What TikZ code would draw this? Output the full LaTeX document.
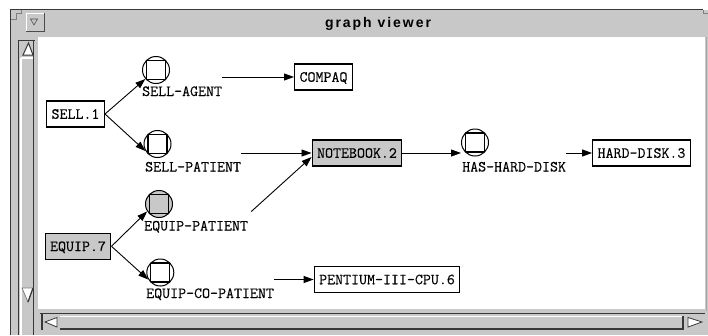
\documentclass[tikz,border=0pt]{standalone}
\usepackage{fontspec}
\usetikzlibrary{arrows.meta,calc}
\newfontfamily\titlefont{Liberation Sans}[LetterSpace=14]
\newfontfamily\lblfam{Latin Modern Mono}[FakeBold=0.3, UprightFeatures={FakeBold=0.3}]
\newcommand\lblfont{\lblfam\fontsize{15.5}{16}\selectfont}
\definecolor{wgray}{HTML}{C8C8C8}
\definecolor{dgray}{HTML}{383838}
\tikzset{
  box/.style={draw=black, line width=1.1pt, fill=white, font=\lblfont, inner xsep=5pt, inner ysep=0pt,
    minimum height=26pt, text height=9.5pt, text depth=0pt},
  gbox/.style={box, fill=wgray},
  rel/.style={circle, draw=black, line width=1pt, minimum size=27pt, inner sep=0pt, fill=white,
    path picture={\draw[line width=1.2pt] ([shift={(-9.5pt,-9.5pt)}]path picture bounding box.center)
      rectangle ([shift={(9.5pt,9.5pt)}]path picture bounding box.center);}},
  grel/.style={rel, fill=wgray},
  lab/.style={font=\lblfont, inner sep=0pt, anchor=base west},
  link/.style={line width=0.9pt, -{Triangle[length=10pt, width=7pt]}}
}
\begin{document}
\begin{tikzpicture}[x=1pt,y=-1pt]
\useasboundingbox (0,0) rectangle (708,335);
\fill[white] (0,0) rectangle (708,335);
% window body
\fill[wgray] (11,10) rectangle (708,335);
\fill[white] (38,37) rectangle (705,309);
\draw[gray!70, line width=0.8pt] (706,37) -- (706,311);
% outer frame
\draw[dgray, line width=1.5pt] (10.5,335) -- (10.5,9.5) -- (703,9.5);
\draw[gray, line width=0.8pt] (11,19) -- (16,19) -- (16,13.5) -- (21.5,13.5) -- (21.5,10);
\draw[gray, line width=0.8pt] (703,10) -- (703,13) -- (708,13);
% title bar button
\draw[white, line width=1pt] (26,31) -- (26,13) -- (44,13);
\draw[gray!60!black, line width=1pt] (44,13) -- (44,31) -- (26,31);
\draw[gray!60!black, line width=0.6pt] (30.5,19) -- (37.5,19) -- (34,25) -- cycle;
% title
\node[font=\titlefont\bfseries\fontsize{14}{14}\selectfont, anchor=base, inner sep=0pt] (title) at (378,27.5) {graph viewer};
% vertical scrollbar
\draw[dgray, line width=1.5pt] (18.5,335) -- (18.5,40.5) -- (35,40.5);
\draw[dgray, line width=1.2pt] (33.5,41) -- (33.5,335);
\draw[white, line width=1.2pt] (21,58) -- (21,335);
\draw[white, line width=1.2pt] (21,58) -- (33,58);
\filldraw[fill=white, draw=dgray, line width=1pt] (23,55) -- (28.5,43) -- (33,55) -- cycle;
\filldraw[fill=white, draw=gray, line width=0.8pt] (22,288) -- (33,288) -- (28,302) -- cycle;
\draw[dgray, line width=1.2pt] (33,288) -- (28,302);
% horizontal scrollbar
\draw[dgray, line width=1.5pt] (40,313.5) -- (705,313.5);
\draw[white, line width=1.2pt] (60,316.5) -- (683,316.5);
\draw[dgray, line width=1.5pt] (60,329) -- (683,329) -- (683,316);
\draw[dgray, line width=1.5pt] (42,330) -- (42,314);
\filldraw[fill=white, draw=dgray, line width=0.8pt] (57,317.5) -- (45,322) -- (57,327) -- cycle;
\filldraw[fill=white, draw=dgray, line width=0.8pt] (688,317.5) -- (702,322) -- (688,327) -- cycle;
% concept boxes
\node[box] (sell) at (75.5,114) {SELL.1};
\node[box] (compaq) at (323.5,77) {COMPAQ};
\node[gbox] (nb) at (357,153) {NOTEBOOK.2};
\node[box] (hd) at (641.5,153) {HARD-DISK.3};
\node[gbox] (equip) at (78,246.3) {EQUIP.7};
\node[box] (pent) at (387,279.5) {PENTIUM-III-CPU.6};
% relation circles
\node[rel] (sa) at (156,70) {};
\node[rel] (sp) at (157.5,144) {};
\node[rel] (hh) at (475,142.5) {};
\node[grel] (ep) at (159,204) {};
\node[rel] (ec) at (160.3,272.5) {};
% relation labels
\node[lab] (saL) at (142,96) {SELL-AGENT};
\node[lab] (spL) at (145,171.5) {SELL-PATIENT};
\node[lab] (hhL) at (462,171.5) {HAS-HARD-DISK};
\node[lab] (epL) at (144,230.5) {EQUIP-PATIENT};
\node[lab] (ecL) at (146,298) {EQUIP-CO-PATIENT};
% connectors
\draw[link] (sell.east) -- (sa.220);
\draw[link] (sell.east) -- (sp.210);
\draw[link] (equip.east) -- (ep.212);
\draw[link] (equip.east) -- (ec.210);
\draw[link] (saL.east |- compaq.west) -- (compaq.west);
\draw[link] (spL.east |- nb.west) -- (nb.west);
\draw[link] ($(epL.north east)+(3,-9)$) -- ($(nb.west)+(0,4)$);
\draw[link] (nb.east) -- (hh.west |- nb.east);
\draw[link] (hhL.east |- hd.west) -- (hd.west);
\draw[link] (ecL.east |- pent.west) -- (pent.west);
\end{tikzpicture}
\end{document}
